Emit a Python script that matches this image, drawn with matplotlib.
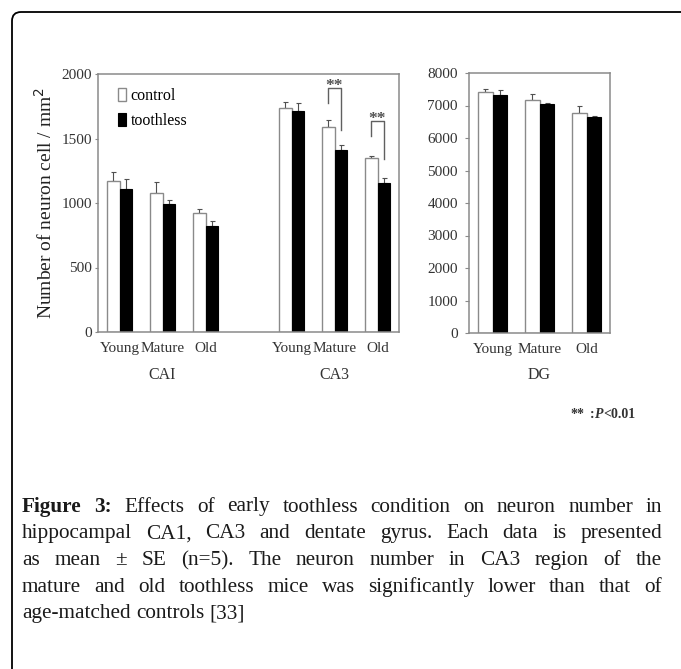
#!/usr/bin/env python3
# neuron number in CA1 / CA3 / DG, control vs toothless, with figure caption

import numpy as np
import matplotlib
matplotlib.use("Agg")
import matplotlib.pyplot as plt
from matplotlib.patches import FancyBboxPatch
from matplotlib.transforms import IdentityTransform

# data (mean and top of error bar = mean + SE)
ages = ["Young", "Mature", "Old"]
regions = ["CAI", "CA3"]
ca1_control = [1173, 1075, 920]
ca1_control_se = [67, 85, 37]
ca1_toothless = [1108, 990, 818]
ca1_toothless_se = [80, 33, 39]
ca3_control = [1733, 1593, 1352]
ca3_control_se = [47, 47, 15]
ca3_toothless = [1710, 1408, 1152]
ca3_toothless_se = [62, 39, 39]
dg_control = [7425, 7160, 6760]
dg_control_se = [73, 203, 225]
dg_toothless = [7332, 7055, 6646]
dg_toothless_se = [145, 31, 22]

# significance brackets in CA3 (mature, old)
sig_age = [1, 2]
sig_top = [1891, 1632]
sig_left = [1772, 1520]
sig_right = [1564, 1338]

caption_lines = [
    "Figure 3: Effects of early toothless condition on neuron number in",
    "hippocampal CA1, CA3 and dentate gyrus. Each data is presented",
    "as mean \u00b1 SE (n=5). The neuron number in CA3 region of the",
    "mature and old toothless mice was significantly lower than that of",
    "age-matched controls [33]",
]

W, H = 681, 669
plt.rc('font', family='Liberation Serif')
fig = plt.figure(figsize=(W/100, H/100), dpi=100)

def px_axes(x0, x1, ytop, ybot):
    return fig.add_axes([x0/W, 1-ybot/H, (x1-x0)/W, (ybot-ytop)/H])

ax1 = px_axes(98, 399, 74, 332)
ax2 = px_axes(469, 610, 73, 333)

grey = '#8a8a8a'
bw = 0.3
ekw = dict(fmt='none', ecolor='#505050', elinewidth=0.8, capsize=1.8, capthick=0.8)

def draw_pairs(ax, xs, ctl, ctl_se, tth, tth_se):
    xs = np.asarray(xs, dtype=float)
    bc = ax.bar(xs - bw/2, ctl, bw, color='white', edgecolor=grey, linewidth=1.0,
                label='control', zorder=2)
    bt = ax.bar(xs + bw/2, tth, bw, color='black', edgecolor='black', linewidth=0.8,
                label='toothless', zorder=2)
    ax.errorbar(xs - bw/2, ctl, yerr=[np.zeros(3), ctl_se], zorder=1, **ekw)
    ax.errorbar(xs + bw/2, tth, yerr=[np.zeros(3), tth_se], zorder=1, **ekw)
    return bc, bt

x_ca1 = np.arange(3)
x_ca3 = np.arange(3) + 4
bc, bt = draw_pairs(ax1, x_ca1, ca1_control, ca1_control_se, ca1_toothless, ca1_toothless_se)
draw_pairs(ax1, x_ca3, ca3_control, ca3_control_se, ca3_toothless, ca3_toothless_se)
x_dg = np.arange(3)
draw_pairs(ax2, x_dg, dg_control, dg_control_se, dg_toothless, dg_toothless_se)

# brackets
for a, top, yl, yr in zip(sig_age, sig_top, sig_left, sig_right):
    xl = x_ca3[a] - bw/2
    xr = x_ca3[a] + bw/2
    ax1.plot([xl, xl, xr, xr], [yl, top, top, yr], color='#606060', lw=1.0)
    ax1.text((xl+xr)/2, top - 12, '**', ha='center', va='baseline', fontsize=12.5,
             fontweight='bold', color='#505050')

ax1.set_xlim(-0.5, 6.5)
ax1.set_ylim(0, 2000)
ax1.set_yticks([0, 500, 1000, 1500, 2000])
ax1.set_xticks(list(x_ca1) + list(x_ca3))
ax1.set_xticklabels(ages * 2)
ax1.set_ylabel('Number of neuron cell / mm$^2$', fontsize=14, labelpad=4,
               color='#222222')

ax2.set_xlim(-0.5, 2.5)
ax2.set_ylim(0, 8000)
ax2.set_yticks(np.arange(0, 8001, 1000))
ax2.set_xticks(x_dg)
ax2.set_xticklabels(ages)

for ax in (ax1, ax2):
    for s in ax.spines.values():
        s.set_color(grey)
        s.set_linewidth(1.1)
    ax.tick_params(axis='x', length=0, pad=7, labelsize=11, colors='#333333')
    ax.tick_params(axis='y', length=2.5, width=0.8, color=grey, pad=2, labelsize=11,
                   labelcolor='#333333')
ax2.tick_params(axis='y', length=3, pad=5)

for xc, name in zip([x_ca1[1], x_ca3[1]], regions):
    ax1.text(xc, -0.167, name, transform=ax1.get_xaxis_transform(), ha='center',
             va='center', fontsize=11.5, color='#333333')
ax2.text(x_dg[1], -0.16, 'DG', transform=ax2.get_xaxis_transform(), ha='center',
         va='center', fontsize=11.5, color='#333333')

ax1.legend(handles=[bc, bt], loc='upper left', bbox_to_anchor=(0.065, 0.945),
           frameon=False, fontsize=11.5, handlelength=0.55, handleheight=0.9,
           handletextpad=0.25, labelspacing=0.55, borderpad=0, borderaxespad=0)

# rounded card border (pixel coordinates, origin bottom-left)
card = FancyBboxPatch((12, -30), 720, H - 12 + 30, boxstyle='round,pad=0,rounding_size=9',
                      transform=IdentityTransform(), facecolor='none', edgecolor='black',
                      linewidth=1.3, clip_on=False)
fig.add_artist(card)

fig.canvas.draw()
renderer = fig.canvas.get_renderer()

def text_w(s, **kw):
    t = fig.text(0, 0, s, **kw)
    w = t.get_window_extent(renderer).width
    t.remove()
    return w

def put(xpx, ypx, s, **kw):
    fig.text(xpx/W, 1-ypx/H, s, va='center', ha='left', **kw)

# "** :P<0.01" note
note_kw = dict(fontsize=10, fontweight='bold', color='#333333')
put(570, 415, '**', **note_kw)
xx = 590
for s, st in [(':', 'normal'), ('P', 'italic'), ('<0.01', 'normal')]:
    put(xx, 415, s, fontstyle=st, **note_kw)
    xx += text_w(s, fontstyle=st, **note_kw)

# justified caption
cap_fs = 15.3
left, right = 22, 662
y0, dy = 507, 26.7
for i, line in enumerate(caption_lines):
    words = line.split(' ')
    kws = []
    for j, w in enumerate(words):
        bold = (i == 0 and j < 2)
        kws.append(dict(fontsize=cap_fs, color='#1a1a1a',
                        fontweight='bold' if bold else 'normal'))
    widths = [text_w(w, **k) for w, k in zip(words, kws)]
    if i < len(caption_lines) - 1:
        gap = (right - left - sum(widths)) / (len(words) - 1)
    else:
        gap = text_w('a b', fontsize=cap_fs) - text_w('ab', fontsize=cap_fs)
    x = left
    for w, k, wd in zip(words, kws, widths):
        put(x, y0 + i*dy, w, **k)
        x += wd + gap

fig.savefig('out.png', dpi=100)
